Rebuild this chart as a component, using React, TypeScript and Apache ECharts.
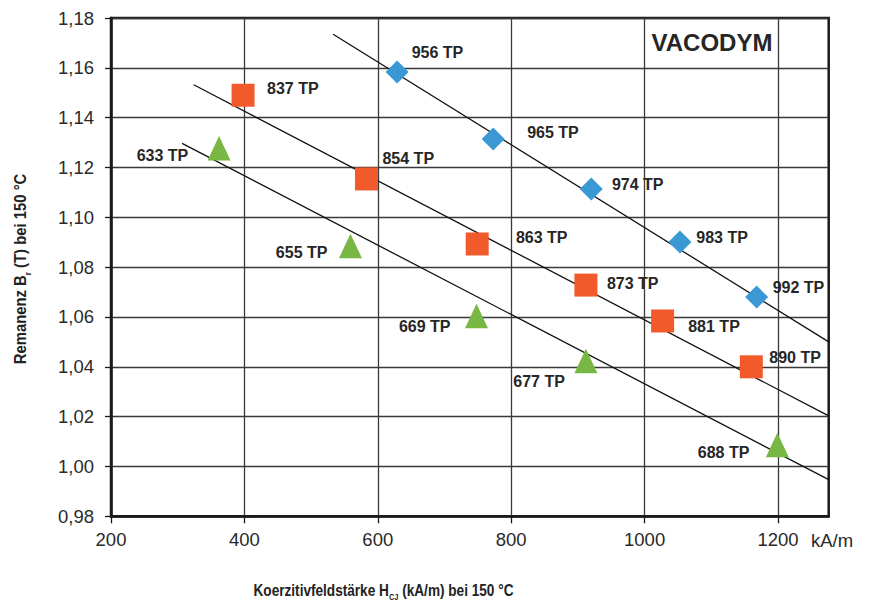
import React, { useEffect, useRef } from "react";
import * as echarts from "echarts";

// Coercivity HcJ (kA/m) and remanence Br (T) at 150 °C per grade
const blueGrades = ["956 TP", "965 TP", "974 TP", "983 TP", "992 TP"];
const blueHcj = [629, 773, 920, 1053, 1168];
const blueBr = [1.1583, 1.1314, 1.1114, 1.0901, 1.068];

const redGrades = ["837 TP", "854 TP", "863 TP", "873 TP", "881 TP", "890 TP"];
const redHcj = [398, 583, 749, 912, 1027, 1160];
const redBr = [1.149, 1.1154, 1.0893, 1.0728, 1.0584, 1.04];

const greenGrades = ["633 TP", "655 TP", "669 TP", "677 TP", "688 TP"];
const greenHcj = [362, 559, 748, 912, 1199];
const greenBr = [1.1277, 1.0885, 1.0604, 1.0423, 1.0086];

// Trend lines through each family (start / end points)
const blueTrend = [[533, 1.1735], [1276, 1.05]];
const redTrend = [[324, 1.1532], [1276, 1.0203]];
const greenTrend = [[306.6, 1.1297], [1276, 0.9947]];

const xTicks = [200, 400, 600, 800, 1000, 1200];

// Label placement next to each marker: [dx, dy] in px
const blueLabelOffsets = [[14.5, -20], [34, -7], [20.7, -4], [16.3, -4.7], [16, -10]];
const redLabelOffsets = [[24, -6.3], [16, -20], [38.7, -6], [21, -2], [25.6, 5.4], [18, -9]];
const greenLabelOffsets = [[-30.8, 7.3], [-23, 7], [-26, 11], [-21, 20], [-28, 7.7]];

const LABEL_FONT = "'Liberation Sans', Arial, Helvetica, sans-serif";

function buildPoints(names: string[], xs: number[], ys: number[], offs: number[][]) {
  return names.map((n, i) => {
    const [dx, dy] = offs[i];
    return {
      name: n,
      value: [xs[i], ys[i]],
      label: {
        show: true,
        position: "inside",
        align: dx >= 0 ? "left" : "right",
        verticalAlign: "middle",
        offset: [dx, dy],
        formatter: n,
        fontFamily: LABEL_FONT,
        fontWeight: "bold",
        fontSize: 16,
        color: "#262626",
      },
    };
  });
}

function trendSeries(pts: number[][]) {
  return {
    type: "line",
    data: pts,
    symbol: "none",
    silent: true,
    lineStyle: { color: "#111", width: 1.3 },
    z: 3,
  };
}

// Axis title with a lowered subscript
function axisTitle(text: string, x: number, y: number, rotation: number, scaleX: number) {
  return {
    type: "text",
    x,
    y,
    rotation,
    scaleX,
    style: {
      text,
      fontFamily: LABEL_FONT,
      fontWeight: "bold",
      fontSize: 16.5,
      lineHeight: 24,
      fill: "#222",
      align: "center",
      verticalAlign: "middle",
      rich: {
        sub: {
          fontFamily: LABEL_FONT,
          fontWeight: "bold",
          fontSize: 9,
          lineHeight: 10,
          verticalAlign: "bottom",
          fill: "#222",
        },
      },
    },
  };
}

export default function App() {
  const ref = useRef<HTMLDivElement>(null);

  useEffect(() => {
    if (!ref.current) return;
    const chart = echarts.init(ref.current, null, { renderer: "svg" });

    const option = {
      animation: false,
      backgroundColor: "#ffffff",
      grid: {
        left: 111,
        top: 18,
        right: 41.3,
        bottom: 84.7,
        show: true,
        borderColor: "#1a1a1a",
        borderWidth: 2.5,
        backgroundColor: "transparent",
      },
      xAxis: {
        type: "value",
        min: 200,
        max: 1276,
        interval: 200,
        axisLine: { show: true, onZero: false, lineStyle: { color: "#1a1a1a", width: 2.5 } },
        axisTick: {
          show: true,
          inside: false,
          length: 7,
          customValues: xTicks,
          lineStyle: { color: "#1a1a1a", width: 1.3 },
        },
        axisLabel: {
          customValues: xTicks,
          margin: 14,
          fontFamily: LABEL_FONT,
          fontSize: 18.5,
          color: "#2a2a2a",
          formatter: (v: number) => (xTicks.indexOf(v) >= 0 ? String(v) : ""),
        },
        splitLine: { show: true, lineStyle: { color: "#3a3a3a", width: 1.3 } },
      },
      yAxis: {
        type: "value",
        min: 0.98,
        max: 1.18,
        interval: 0.02,
        axisLine: { show: true, onZero: false, lineStyle: { color: "#1a1a1a", width: 2.5 } },
        axisTick: { show: true, inside: false, length: 6, lineStyle: { color: "#1a1a1a", width: 1.3 } },
        axisLabel: {
          margin: 17,
          fontFamily: LABEL_FONT,
          fontSize: 18.5,
          color: "#2a2a2a",
          formatter: (v: number) => v.toFixed(2).replace(".", ","),
        },
        splitLine: { show: true, lineStyle: { color: "#3a3a3a", width: 1.3 } },
      },
      series: [
        trendSeries(blueTrend),
        trendSeries(redTrend),
        trendSeries(greenTrend),
        {
          type: "scatter",
          symbol: "diamond",
          symbolSize: 23,
          itemStyle: { color: "#3a98d5", opacity: 1 },
          data: buildPoints(blueGrades, blueHcj, blueBr, blueLabelOffsets),
          z: 4,
        },
        {
          type: "scatter",
          symbol: "rect",
          symbolSize: 23,
          itemStyle: { color: "#f15a2b", opacity: 1 },
          data: buildPoints(redGrades, redHcj, redBr, redLabelOffsets),
          z: 4,
        },
        {
          type: "scatter",
          symbol: "triangle",
          symbolSize: [23, 24.5],
          itemStyle: { color: "#79b744", opacity: 1 },
          data: buildPoints(greenGrades, greenHcj, greenBr, greenLabelOffsets),
          z: 4,
        },
      ],
      graphic: [
        {
          type: "text",
          x: 712,
          y: 42,
          style: {
            text: "VACODYM",
            fontFamily: LABEL_FONT,
            fontWeight: "bold",
            fontSize: 24,
            fill: "#262626",
            align: "center",
            verticalAlign: "middle",
          },
          z: 10,
        },
        {
          type: "text",
          x: 832,
          y: 540.5,
          style: {
            text: "kA/m",
            fontFamily: LABEL_FONT,
            fontSize: 18.5,
            fill: "#2a2a2a",
            align: "center",
            verticalAlign: "middle",
          },
        },
        axisTitle("Koerzitivfeldstärke H{sub|CJ} (kA/m) bei 150 °C", 383.5, 590, 0, 0.825),
        axisTitle("Remanenz B{sub|r} (T) bei 150 °C", 20, 269, Math.PI / 2, 0.9),
      ],
    };

    chart.setOption(option as any);
    return () => chart.dispose();
  }, []);

  return (
    <div
      ref={ref}
      style={{ position: "fixed", left: 0, top: 0, width: 870, height: 601, background: "#fff" }}
    />
  );
}
